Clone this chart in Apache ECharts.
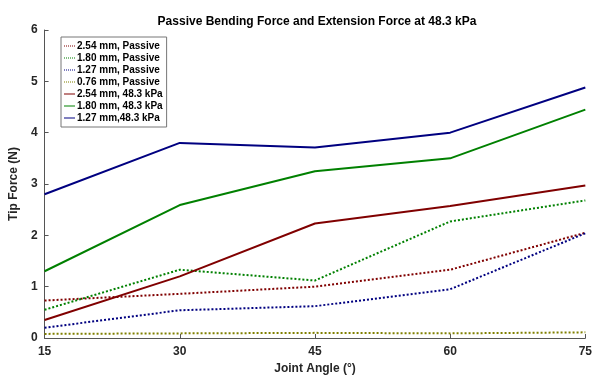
<!DOCTYPE html>
<html>
<head>
<meta charset="utf-8">
<script src="https://cdn.jsdelivr.net/npm/echarts@6/dist/echarts.min.js"></script>
<style>
  html, body { margin: 0; padding: 0; background: #fff; }
  #chart { width: 595px; height: 380px; }
</style>
</head>
<body>
<div id="chart"></div>
<script>
// joint angles (deg)
const angles = [15, 30, 45, 60, 75]

// tip force (N)
const passive254 = [0.73, 0.86, 1.0, 1.33, 2.05]
const passive180 = [0.55, 1.33, 1.12, 2.27, 2.68]
const passive127 = [0.2, 0.54, 0.62, 0.95, 2.04]
const passive076 = [0.08, 0.09, 0.1, 0.09, 0.11]
const ext254 = [0.35, 1.2, 2.23, 2.57, 2.97]
const ext180 = [1.3, 2.59, 3.25, 3.5, 4.45]
const ext127 = [2.8, 3.8, 3.71, 4.0, 4.88]

const seriesDefs = [
  { name: '2.54 mm, Passive', data: passive254, color: '#800000', type: 'dotted' },
  { name: '1.80 mm, Passive', data: passive180, color: '#008000', type: 'dotted' },
  { name: '1.27 mm, Passive', data: passive127, color: '#000080', type: 'dotted' },
  { name: '0.76 mm, Passive', data: passive076, color: '#808000', type: 'dotted' },
  { name: '2.54 mm, 48.3 kPa', data: ext254, color: '#800000', type: 'solid' },
  { name: '1.80 mm, 48.3 kPa', data: ext180, color: '#008000', type: 'solid' },
  { name: '1.27 mm,48.3 kPa', data: ext127, color: '#000080', type: 'solid' }
]

// legend icons: short dotted or solid bar
const dottedIcon = 'path://M0,0h1v1h-1zM2,0h1v1h-1zM4,0h1v1h-1zM6,0h1v1h-1zM8,0h1v1h-1zM10,0h1v1h-1z'
const solidIcon = 'path://M0,0h11v1h-11z'

const chart = echarts.init(document.getElementById('chart'))
const font = 'Liberation Sans, Arial, sans-serif'

chart.setOption({
  animation: false,
  backgroundColor: '#ffffff',
  title: {
    text: 'Passive Bending Force and Extension Force at 48.3 kPa',
    left: 312,
    top: 11,
    textAlign: 'center',
    textStyle: { fontFamily: font, fontSize: 12, fontWeight: 'bold', color: '#000' }
  },
  legend: {
    orient: 'vertical',
    left: 61,
    top: 37,
    padding: [3, 4, 3, 3],
    itemGap: 0,
    itemWidth: 11,
    itemHeight: 3,
    borderColor: '#777',
    borderWidth: 1,
    backgroundColor: '#fff',
    textStyle: { fontFamily: font, fontSize: 10, lineHeight: 12, fontWeight: 'bold', color: '#000', padding: [0, 0, 0, -3] },
    data: seriesDefs.map(s => ({ name: s.name, icon: s.type === 'dotted' ? dottedIcon : solidIcon }))
  },
  grid: { left: 37, right: 8, top: 30, bottom: 38 },
  xAxis: {
    type: 'value',
    min: 15,
    max: 75,
    interval: 15,
    name: 'Joint Angle (°)',
    nameLocation: 'middle',
    nameGap: 25,
    nameTextStyle: { fontFamily: font, fontSize: 12, fontWeight: 'bold', color: '#262626' },
    axisLine: { lineStyle: { color: '#555', width: 1 } },
    axisTick: { inside: true, length: 4, lineStyle: { color: '#555' } },
    axisLabel: { fontFamily: font, fontSize: 12, fontWeight: 'bold', color: '#262626', margin: 8 },
    splitLine: { show: false }
  },
  yAxis: {
    type: 'value',
    min: 0,
    max: 6,
    interval: 1,
    name: 'Tip Force (N)',
    nameLocation: 'middle',
    nameGap: 20,
    nameTextStyle: { fontFamily: font, fontSize: 12, fontWeight: 'bold', color: '#262626' },
    axisLine: { show: true, lineStyle: { color: '#555', width: 1 } },
    axisTick: { show: true, inside: true, length: 4, lineStyle: { color: '#555' } },
    axisLabel: { fontFamily: font, fontSize: 12, fontWeight: 'bold', color: '#262626', margin: 7 },
    splitLine: { show: false }
  },
  series: seriesDefs.map(s => ({
    name: s.name,
    type: 'line',
    data: angles.map((a, i) => [a, s.data[i]]),
    symbol: 'none',
    color: s.color,
    lineStyle: { color: s.color, width: 2, type: s.type }
  }))
})
</script>
</body>
</html>
